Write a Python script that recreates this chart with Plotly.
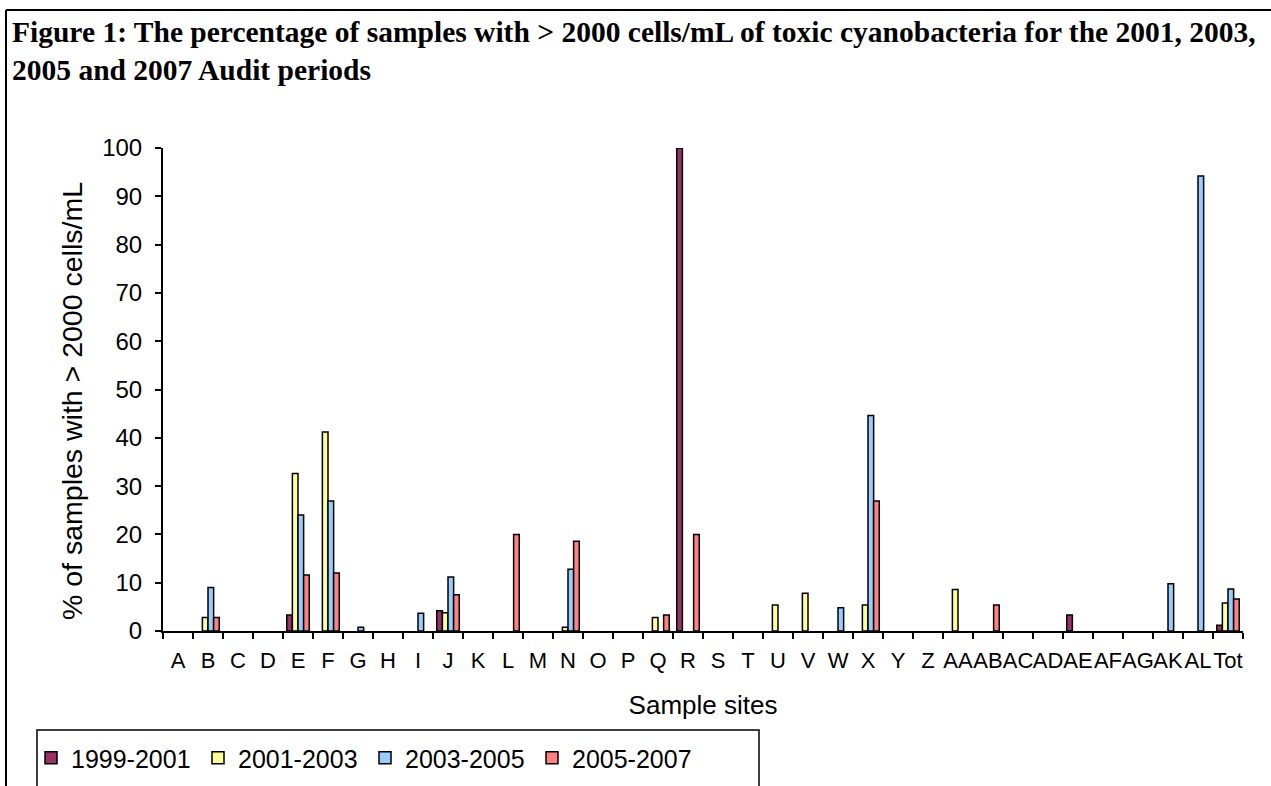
import plotly.graph_objects as go

sites = ["A", "B", "C", "D", "E", "F", "G", "H", "I", "J", "K", "L", "M", "N", "O", "P", "Q", "R",
         "S", "T", "U", "V", "W", "X", "Y", "Z", "AA", "AB", "AC", "AD", "AE", "AF", "AG", "AK", "AL", "Tot"]

p1999_2001 = [0, 0, 0, 0, 3.3, 0, 0, 0, 0, 4.2, 0, 0, 0, 0, 0, 0, 0, 100,
              0, 0, 0, 0, 0, 0, 0, 0, 0, 0, 0, 0, 3.3, 0, 0, 0, 0, 1.2]
p2001_2003 = [0, 2.8, 0, 0, 32.6, 41.2, 0, 0, 0, 3.8, 0, 0, 0, 0.8, 0, 0, 2.8, 0,
              0, 0, 5.4, 7.8, 0, 5.4, 0, 0, 8.6, 0, 0, 0, 0, 0, 0, 0, 0, 5.8]
p2003_2005 = [0, 9.0, 0, 0, 24.0, 26.9, 0.8, 0, 3.7, 11.2, 0, 0, 0, 12.8, 0, 0, 0, 0,
              0, 0, 0, 0, 4.8, 44.6, 0, 0, 0, 0, 0, 0, 0, 0, 0, 9.8, 94.2, 8.7]
p2005_2007 = [0, 2.8, 0, 0, 11.6, 12.0, 0, 0, 0, 7.5, 0, 20.0, 0, 18.6, 0, 0, 3.3, 20.0,
              0, 0, 0, 0, 0, 26.9, 0, 0, 0, 5.4, 0, 0, 0, 0, 0, 0, 0, 6.6]

series = [
    ("1999-2001", p1999_2001, "#993366"),
    ("2001-2003", p2001_2003, "#FFFF99"),
    ("2003-2005", p2003_2005, "#99CCFF"),
    ("2005-2007", p2005_2007, "#FF8080"),
]

title_line1 = "Figure 1: The percentage of samples with > 2000 cells/mL of toxic cyanobacteria for the 2001, 2003,"
title_line2 = "2005 and 2007 Audit periods"
y_title = "% of samples with > 2000 cells/mL"
x_title = "Sample sites"

W, H = 1271, 786
L, R, T, B = 163, 1243, 148, 631


def px(x):
    return (x - L) / (R - L)


def py(y):
    return (B - y) / (B - T)


fig = go.Figure()
for name, vals, col in series:
    # zero values draw nothing, as in the original chart
    fig.add_trace(go.Bar(
        x=sites, y=[v if v > 0 else None for v in vals], name=name,
        marker=dict(color=col, line=dict(color="black", width=1.5)),
    ))

font_sans = "Liberation Sans, Arial, sans-serif"

fig.update_layout(
    width=W, height=H,
    margin=dict(l=L, r=W - R, t=T, b=H - B, autoexpand=False),
    paper_bgcolor="white", plot_bgcolor="white",
    barmode="group", bargap=0.25, bargroupgap=0,
    font=dict(family=font_sans, size=23, color="black"),
    showlegend=True,
    legend=dict(orientation="h", x=px(31), y=py(758), xanchor="left", yanchor="middle",
                entrywidth=122, entrywidthmode="pixels", bgcolor="rgba(0,0,0,0)",
                borderwidth=0, font=dict(size=25), itemwidth=30, traceorder="normal"),
    xaxis=dict(
        type="category", showline=True, linecolor="black", linewidth=2,
        ticks="outside", tickson="boundaries", ticklen=6, tickwidth=2, tickcolor="black",
        showgrid=False, zeroline=False, ticklabelstandoff=9, tickangle=0,
        tickfont=dict(size=22),
        title=dict(text=x_title, font=dict(size=26), standoff=23),
    ),
    yaxis=dict(
        range=[0, 100], tickmode="array", tickvals=list(range(0, 101, 10)),
        showline=True, linecolor="black", linewidth=2,
        ticks="outside", ticklen=6, tickwidth=2, tickcolor="black",
        showgrid=False, zeroline=False, ticklabelstandoff=8,
        tickfont=dict(size=24),
    ),
    annotations=[
        dict(
            text="<b>" + title_line1 + "</b><br><b>" + title_line2 + "</b>",
            xref="paper", yref="paper", x=px(10), y=py(14),
            xanchor="left", yanchor="top", align="left", showarrow=False,
            font=dict(family="Liberation Serif, Times New Roman, serif", size=29.5, color="black"),
        ),
        dict(
            text=y_title, xref="paper", yref="paper", x=px(72), y=py(401),
            xanchor="center", yanchor="middle", textangle=-90, showarrow=False,
            font=dict(size=28.5, color="black"),
        ),
    ],
    shapes=[
        dict(type="line", xref="paper", yref="paper", x0=px(6), x1=px(1290), y0=py(10), y1=py(10),
             line=dict(color="black", width=2)),
        dict(type="line", xref="paper", yref="paper", x0=px(6), x1=px(6), y0=py(10), y1=py(800),
             line=dict(color="black", width=2)),
        dict(type="rect", xref="paper", yref="paper", x0=px(37), x1=px(759), y0=py(730), y1=py(800),
             line=dict(color="black", width=1.5), fillcolor="rgba(0,0,0,0)", layer="below"),
    ],
)

fig.write_html("out.html", config={"displayModeBar": False},
               post_script="document.body.style.margin='0';document.body.style.overflow='hidden';")
